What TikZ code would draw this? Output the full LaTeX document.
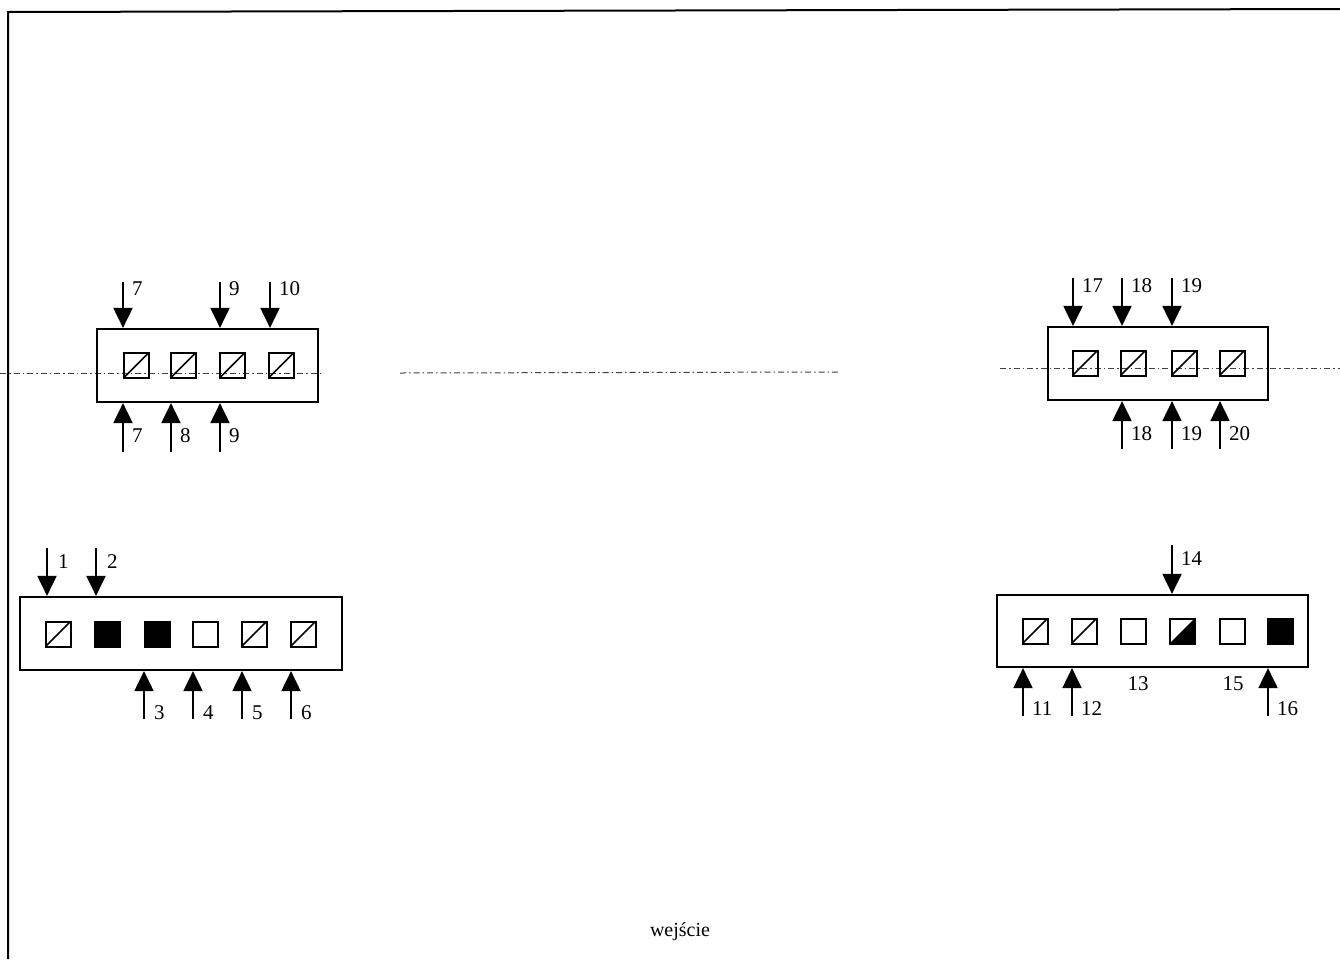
\documentclass[tikz,border=0pt]{standalone}
\usepackage{fontspec}
\setmainfont{Liberation Serif}
\usetikzlibrary{arrows.meta,calc}

\begin{document}
\begin{tikzpicture}[x=1pt,y=-1pt,
		box/.style={draw,line width=2.2pt,inner sep=0pt},
		sq/.style={draw,line width=2pt,minimum size=25pt,inner sep=0pt},
		sl/.style={sq,path picture={\draw[line width=1.6pt] (path picture bounding box.south west) -- (path picture bounding box.north east);}},
		bk/.style={sq,fill=black},
		hf/.style={sq,path picture={\fill (path picture bounding box.south west) -- (path picture bounding box.north east) |- cycle;}},
		arr/.style={line width=2pt,-{Triangle[length=20pt,width=19pt]}},
		lbl/.style={font=\fontsize{21}{21}\selectfont,anchor=west,inner sep=0pt},
		axis/.style={line width=1pt,dash pattern=on 6pt off 3pt on 1.5pt off 3pt,black!75}]
	\useasboundingbox (0,0) rectangle (1340,959);
	\draw[line width=2pt] (8,959) -- (8,12) -- (1340,9);
	\coordinate (ax1) at (0,373);
	\coordinate (ax2) at (323,373);
	\coordinate (ax3) at (400,373);
	\coordinate (ax4) at (840,372);
	\coordinate (ax5) at (1000,368);
	\coordinate (ax6) at (1340,368);
	\draw[axis] (ax1) -- (ax2);
	\draw[axis] (ax3) -- (ax4);
	\draw[axis] (ax5) -- (ax6);
	\node[box,minimum width=221pt,minimum height=73pt] (A) at (207.5,365.5) {};
	\node[box,minimum width=220pt,minimum height=73pt] (B) at (1158,363.5) {};
	\node[box,minimum width=322pt,minimum height=73pt] (C) at (181,633.5) {};
	\node[box,minimum width=311pt,minimum height=72pt] (D) at (1152.5,631) {};
	\foreach \x [count=\i] in {136,183,232,281}
		\node[sl] (A\i) at (\x,365.5) {};
	\foreach \x [count=\i] in {1085,1133,1184,1232}
		\node[sl] (B\i) at (\x,363) {};
	\foreach \x/\s [count=\i] in {58/sl,107/bk,157/bk,205/sq,254/sl,303/sl}
		\node[\s] (C\i) at (\x,634) {};
	\foreach \x/\s [count=\i] in {1035/sl,1084/sl,1133/sq,1182/hf,1232/sq,1280/bk}
		\node[\s] (D\i) at (\x,631) {};
	\foreach \x/\n in {123/7,220/9,270/10} {
		\coordinate (At\n) at (\x,282);
		\draw[arr] (At\n) -- (At\n |- A.north);
		\node[lbl] (lAt\n) at (\x+9,289) {\n};
	}
	\foreach \x/\n in {123/7,171/8,220/9} {
		\coordinate (Ab\n) at (\x,452);
		\draw[arr] (Ab\n) -- (Ab\n |- A.south);
		\node[lbl] (lAb\n) at (\x+9,436) {\n};
	}
	\foreach \x/\n in {1073/17,1122/18,1172/19} {
		\coordinate (Bt\n) at (\x,278);
		\draw[arr] (Bt\n) -- (Bt\n |- B.north);
		\node[lbl] (lBt\n) at (\x+9,286) {\n};
	}
	\foreach \x/\n in {1122/18,1172/19,1220/20} {
		\coordinate (Bb\n) at (\x,449);
		\draw[arr] (Bb\n) -- (Bb\n |- B.south);
		\node[lbl] (lBb\n) at (\x+9,434) {\n};
	}
	\foreach \x/\n in {47/1,96/2} {
		\coordinate (Ct\n) at (\x,548);
		\draw[arr] (Ct\n) -- (Ct\n |- C.north);
		\node[lbl] (lCt\n) at (\x+11,562) {\n};
	}
	\foreach \x/\n in {144/3,193/4,242/5,291/6} {
		\coordinate (Cb\n) at (\x,719);
		\draw[arr] (Cb\n) -- (Cb\n |- C.south);
		\node[lbl] (lCb\n) at (\x+10,713) {\n};
	}
	\coordinate (Dt14) at (1172,545);
	\draw[arr] (Dt14) -- (Dt14 |- D.north);
	\node[lbl] (lDt14) at (1181,559) {14};
	\foreach \x/\n in {1023/11,1072/12,1268/16} {
		\coordinate (Db\n) at (\x,716);
		\draw[arr] (Db\n) -- (Db\n |- D.south);
		\node[lbl] (lDb\n) at (\x+9,709) {\n};
	}
	\node[lbl,anchor=center] (l13) at (1138,684) {13};
	\node[lbl,anchor=center] (l15) at (1233,684) {15};
	\node[font=\fontsize{20}{20}\selectfont] (in) at (680,932) {wejście};
\end{tikzpicture}
\end{document}
